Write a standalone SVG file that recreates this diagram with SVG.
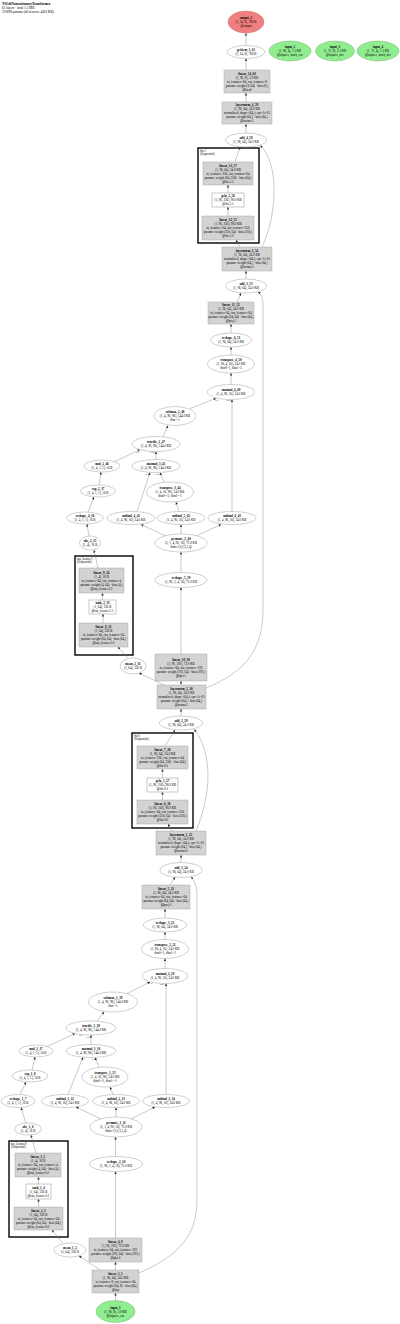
<svg xmlns="http://www.w3.org/2000/svg" width="400" height="1324" viewBox="0 0 400 1324">
<style>
text{font-family:"Liberation Serif",serif;font-size:3.2px;fill:#000;text-anchor:middle}
.b{font-weight:bold}
.h{text-anchor:start;font-size:3.4px}
.cl{text-anchor:start;font-size:3px}
.el{font-size:2.4px;fill:#333}
.e{fill:#fff;stroke:#888;stroke-width:0.4}
.r{fill:#d3d3d3;stroke:#999;stroke-width:0.4}
.w{fill:#fff;stroke:#777;stroke-width:0.4}
.in{fill:#90ee90;stroke:#6a6;stroke-width:0.4}
.out{fill:#f08080;stroke:#b66;stroke-width:0.4}
.c{fill:#fff;stroke:#000;stroke-width:1.4}
#edges path{fill:none;stroke:#777;stroke-width:0.4;marker-end:url(#a)}
</style>
<defs>
<marker id="a" viewBox="0 0 10 10" refX="10" refY="5" markerWidth="2.6" markerHeight="2.6" markerUnits="userSpaceOnUse" orient="auto"><path d="M0,0L10,5L0,10z" fill="#333"/></marker>
</defs>
<rect width="400" height="1324" fill="#fff"/>
<g id="header">
<text class="h b" x="2" y="4.5">TSLibNonstationaryTransformer</text>
<text class="h" x="2" y="8.5">61 layers · total 1.5 MB</text>
<text class="h" x="2" y="12.5">310096 params (all tensors: 4263 KB)</text>
</g>
<g id="clusters">
<g id="ffn.1"><rect class="c" x="198" y="148" width="61" height="95"/><text class="cl" x="200" y="151.5">ffn.1</text><text class="cl" x="200" y="155.3">(Sequential)</text></g>
<g id="tau_learner.1"><rect class="c" x="75" y="556" width="58" height="99"/><text class="cl" x="77" y="559.5">tau_learner.1</text><text class="cl" x="77" y="563.3">(Sequential)</text></g>
<g id="ffn.0"><rect class="c" x="132" y="733" width="61" height="95"/><text class="cl" x="134" y="736.5">ffn.0</text><text class="cl" x="134" y="740.3">(Sequential)</text></g>
<g id="tau_learner.0"><rect class="c" x="9" y="1141" width="59" height="96"/><text class="cl" x="11" y="1144.5">tau_learner.0</text><text class="cl" x="11" y="1148.3">(Sequential)</text></g>
</g>
<g id="edges">
<path d="M115.5,1300.5L115.5,1293"/>
<path d="M115.5,1270L115.5,1262"/>
<path d="M100,1270L79,1256"/>
<path d="M139,1273C180,1255 197,1235 197,1200L197,895C197,886 194,880 191,877"/>
<path d="M63,1243.5L52,1230"/>
<path d="M38.5,1207L38.5,1199"/>
<path d="M38.5,1184L38.5,1177"/>
<path d="M36,1153L31,1135"/>
<path d="M26,1123L21,1107.5"/>
<path d="M20,1094.5L26,1082"/>
<path d="M32,1070L35,1057"/>
<path d="M46,1047L75,1033.5"/>
<path d="M115.5,1238L115.5,1171.5"/>
<path d="M115.5,1156.5L115.5,1137"/>
<path d="M101,1119L76,1107"/>
<path d="M116,1117L116,1107.5"/>
<path d="M131,1119L155,1107"/>
<path d="M68,1094.5L83,1057.3"/>
<path d="M113,1094.5L110,1087"/>
<path d="M99,1067L95,1057.5"/>
<path d="M91,1044.5L91,1035"/>
<path d="M97,1021L104,1011.8"/>
<path d="M127,993.5L150,982"/>
<path d="M166,1094.5L166,983.5"/>
<path d="M165,968.5L165,958.5"/>
<path d="M165,939.5L165,932"/>
<path d="M165,918L165,909"/>
<path d="M170,885L175,877"/>
<path d="M181,862.5L181,855"/>
<path d="M172,831L168,824"/>
<path d="M196,831C204,812 208,792 208,776C208,754 201,737 194,729.5"/>
<path d="M162.5,800L162.5,792"/>
<path d="M162.5,778L162.5,769"/>
<path d="M165,746L175,730"/>
<path d="M181,716L181,709"/>
<path d="M181,685L181,681"/>
<path d="M164,685L139,673"/>
<path d="M206,688C245,672 263,650 263,610L263,305C263,298 261,294 258,292"/>
<path d="M181,654L181,587.5"/>
<path d="M181,572.5L181,552"/>
<path d="M166,536L141,524.5"/>
<path d="M181,534L181,524.5"/>
<path d="M196,536L221,524.5"/>
<path d="M128,658.5L118,647"/>
<path d="M103,623L103,614"/>
<path d="M102.5,600L102.5,593"/>
<path d="M98,568L94,550"/>
<path d="M89,536L87,524"/>
<path d="M88,512L94,497"/>
<path d="M99,485L101,472"/>
<path d="M114,462L140,449.5"/>
<path d="M137,511.5L150,472.5"/>
<path d="M179,511.5L176,502"/>
<path d="M164,482L160,472.5"/>
<path d="M156,459.5L156,451.5"/>
<path d="M163,437L168,425.5"/>
<path d="M190,408.5L216,398.5"/>
<path d="M232,511.5L232,399.5"/>
<path d="M231,384.5L231,373"/>
<path d="M231,355L231,347"/>
<path d="M231,333L231,324"/>
<path d="M237,302L241,293"/>
<path d="M246,279L246,271"/>
<path d="M240,247L236,240"/>
<path d="M262,247C270,230 274,210 274,190C274,168 268,152 260,145.5"/>
<path d="M228,216L228,207"/>
<path d="M228,193L228,185"/>
<path d="M235,162L240,147"/>
<path d="M246,133L246,124"/>
<path d="M246,102L246,93"/>
<path d="M246,70L246,58.5"/>
<path d="M246,45.5L246,33"/>
</g>
<g id="edge-labels">
<text class="el" x="81" y="1036">self</text><text class="el" x="89" y="1038">other</text>
<text class="el" x="83" y="1059.5">self</text><text class="el" x="94" y="1059.5">other</text>
<text class="el" x="151" y="984">self</text><text class="el" x="162" y="984.5">other</text>
<text class="el" x="138" y="452.5">self</text><text class="el" x="153" y="453">other</text>
<text class="el" x="147" y="474.5">self</text><text class="el" x="158" y="474.5">other</text>
<text class="el" x="217" y="400.5">self</text><text class="el" x="229" y="401">other</text>
</g>
<g id="output_1"><ellipse class="out" cx="246" cy="22" rx="18" ry="11"/><text><tspan class="b" x="246" y="19.1">output_1</tspan><tspan x="246" y="23.1">(1, 24, 8), 768 B</tspan><tspan x="246" y="27.1">@output</tspan></text></g>
<g id="getitem_1_61"><ellipse class="e" cx="246" cy="52" rx="19" ry="6.5"/><text><tspan class="b" x="246" y="51">getitem_1_61</tspan><tspan x="246" y="55">(1, 24, 8), 768 B</tspan></text></g>
<g id="input_2"><ellipse class="in" cx="290" cy="51" rx="21" ry="10"/><text><tspan class="b" x="290" y="48.1">input_2</tspan><tspan x="290" y="52.1">(1, 96, 4), 1.5 KB</tspan><tspan x="290" y="56.1">@input.x_mark_enc</tspan></text></g>
<g id="input_3"><ellipse class="in" cx="335" cy="51" rx="19.5" ry="10"/><text><tspan class="b" x="335" y="48.1">input_3</tspan><tspan x="335" y="52.1">(1, 72, 8), 2.2 KB</tspan><tspan x="335" y="56.1">@input.x_dec</tspan></text></g>
<g id="input_4"><ellipse class="in" cx="378" cy="51" rx="21" ry="10"/><text><tspan class="b" x="378" y="48.1">input_4</tspan><tspan x="378" y="52.1">(1, 72, 4), 1.1 KB</tspan><tspan x="378" y="56.1">@input.x_mark_dec</tspan></text></g>
<g id="linear_14_60"><rect class="r" x="224" y="70" width="46" height="23"/><text><tspan class="b" x="247" y="74.6">linear_14_60</tspan><tspan x="247" y="78.6">(1, 96, 8), 3.0 KB</tspan><tspan x="247" y="82.6">in_features=64, out_features=8</tspan><tspan x="247" y="86.6">params: weight (8, 64) · bias (8,)</tspan><tspan x="247" y="90.6">@head</tspan></text></g>
<g id="layernorm_4_59"><rect class="r" x="222" y="102" width="50" height="22"/><text><tspan class="b" x="247" y="106.1">layernorm_4_59</tspan><tspan x="247" y="110.1">(1, 96, 64), 24.0 KB</tspan><tspan x="247" y="114.1">normalized_shape=(64,); eps=1e-05</tspan><tspan x="247" y="118.1">params: weight (64,) · bias (64,)</tspan><tspan x="247" y="122.1">@norms.3</tspan></text></g>
<g id="add_4_58"><ellipse class="e" cx="246" cy="140" rx="20.5" ry="7"/><text><tspan class="b" x="246" y="139.1">add_4_58</tspan><tspan x="246" y="143.1">(1, 96, 64), 24.0 KB</tspan></text></g>
<g id="linear_13_57"><rect class="r" x="203" y="162" width="50" height="23"/><text><tspan class="b" x="228" y="166.6">linear_13_57</tspan><tspan x="228" y="170.6">(1, 96, 64), 24.0 KB</tspan><tspan x="228" y="174.6">in_features=256, out_features=64</tspan><tspan x="228" y="178.6">params: weight (64, 256) · bias (64,)</tspan><tspan x="228" y="182.6">@ffn.1.2</tspan></text></g>
<g id="gelu_2_56"><rect class="w" x="212" y="193" width="32" height="14"/><text><tspan class="b" x="228" y="197.1">gelu_2_56</tspan><tspan x="228" y="201.1">(1, 96, 256), 96.0 KB</tspan><tspan x="228" y="205.1">@ffn.1.1</tspan></text></g>
<g id="linear_12_55"><rect class="r" x="202" y="216" width="52" height="24"/><text><tspan class="b" x="228" y="221.1">linear_12_55</tspan><tspan x="228" y="225.1">(1, 96, 256), 96.0 KB</tspan><tspan x="228" y="229.1">in_features=64, out_features=256</tspan><tspan x="228" y="233.1">params: weight (256, 64) · bias (256,)</tspan><tspan x="228" y="237.1">@ffn.1.0</tspan></text></g>
<g id="layernorm_3_54"><rect class="r" x="222" y="247" width="50" height="24"/><text><tspan class="b" x="247" y="252.1">layernorm_3_54</tspan><tspan x="247" y="256.1">(1, 96, 64), 24.0 KB</tspan><tspan x="247" y="260.1">normalized_shape=(64,); eps=1e-05</tspan><tspan x="247" y="264.1">params: weight (64,) · bias (64,)</tspan><tspan x="247" y="268.1">@norms.2</tspan></text></g>
<g id="add_3_53"><ellipse class="e" cx="246" cy="286" rx="20.5" ry="7"/><text><tspan class="b" x="246" y="285.1">add_3_53</tspan><tspan x="246" y="289.1">(1, 96, 64), 24.0 KB</tspan></text></g>
<g id="linear_11_52"><rect class="r" x="208" y="302" width="46" height="22"/><text><tspan class="b" x="231" y="306.1">linear_11_52</tspan><tspan x="231" y="310.1">(1, 96, 64), 24.0 KB</tspan><tspan x="231" y="314.1">in_features=64, out_features=64</tspan><tspan x="231" y="318.1">params: weight (64, 64) · bias (64,)</tspan><tspan x="231" y="322.1">@proj.1</tspan></text></g>
<g id="reshape_6_51"><ellipse class="e" cx="231" cy="340" rx="20.5" ry="7"/><text><tspan class="b" x="231" y="339.1">reshape_6_51</tspan><tspan x="231" y="343.1">(1, 96, 64), 24.0 KB</tspan></text></g>
<g id="transpose_4_50"><ellipse class="e" cx="231" cy="364" rx="23.5" ry="9"/><text><tspan class="b" x="231" y="361.1">transpose_4_50</tspan><tspan x="231" y="365.1">(1, 96, 4, 16), 24.0 KB</tspan><tspan x="231" y="369.1">dim0=1, dim1=2</tspan></text></g>
<g id="matmul_4_49"><ellipse class="e" cx="231" cy="392" rx="23.5" ry="7.5"/><text><tspan class="b" x="231" y="391.1">matmul_4_49</tspan><tspan x="231" y="395.1">(1, 4, 96, 16), 24.0 KB</tspan></text></g>
<g id="softmax_2_48"><ellipse class="e" cx="175" cy="416" rx="21" ry="9.5"/><text><tspan class="b" x="175" y="413.1">softmax_2_48</tspan><tspan x="175" y="417.1">(1, 4, 96, 96), 144.0 KB</tspan><tspan x="175" y="421.1">dim=-1</tspan></text></g>
<g id="truediv_2_47"><ellipse class="e" cx="156" cy="444" rx="24" ry="7.5"/><text><tspan class="b" x="156" y="443.1">truediv_2_47</tspan><tspan x="156" y="447.1">(1, 4, 96, 96), 144.0 KB</tspan></text></g>
<g id="mul_2_46"><ellipse class="e" cx="102" cy="466" rx="18" ry="6"/><text><tspan class="b" x="102" y="465.1">mul_2_46</tspan><tspan x="102" y="469.1">(1, 4, 1, 1), 16 B</tspan></text></g>
<g id="matmul_3_45"><ellipse class="e" cx="156" cy="466" rx="24" ry="6.5"/><text><tspan class="b" x="156" y="465.1">matmul_3_45</tspan><tspan x="156" y="469.1">(1, 4, 96, 96), 144.0 KB</tspan></text></g>
<g id="transpose_3_44"><ellipse class="e" cx="170" cy="492" rx="23.5" ry="10"/><text><tspan class="b" x="170" y="489.1">transpose_3_44</tspan><tspan x="170" y="493.1">(1, 4, 16, 96), 24.0 KB</tspan><tspan x="170" y="497.1">dim0=-2, dim1=-1</tspan></text></g>
<g id="exp_2_37"><ellipse class="e" cx="98" cy="491" rx="17.5" ry="6"/><text><tspan class="b" x="98" y="490.1">exp_2_37</tspan><tspan x="98" y="494.1">(1, 4, 1, 1), 16 B</tspan></text></g>
<g id="reshape_4_36"><ellipse class="e" cx="85" cy="518" rx="18.5" ry="6"/><text><tspan class="b" x="85" y="517.1">reshape_4_36</tspan><tspan x="85" y="521.1">(1, 4, 1, 1), 16 B</tspan></text></g>
<g id="unbind_4_41"><ellipse class="e" cx="131" cy="518" rx="24" ry="6.5"/><text><tspan class="b" x="131" y="517.1">unbind_4_41</tspan><tspan x="131" y="521.1">(1, 4, 96, 16), 24.0 KB</tspan></text></g>
<g id="unbind_5_42"><ellipse class="e" cx="181" cy="518" rx="24" ry="6.5"/><text><tspan class="b" x="181" y="517.1">unbind_5_42</tspan><tspan x="181" y="521.1">(1, 4, 96, 16), 24.0 KB</tspan></text></g>
<g id="unbind_6_43"><ellipse class="e" cx="232" cy="518" rx="24" ry="6.5"/><text><tspan class="b" x="232" y="517.1">unbind_6_43</tspan><tspan x="232" y="521.1">(1, 4, 96, 16), 24.0 KB</tspan></text></g>
<g id="abs_2_35"><ellipse class="e" cx="90" cy="543" rx="10.5" ry="7"/><text><tspan class="b" x="90" y="542.1">abs_2_35</tspan><tspan x="90" y="546.1">(1, 4), 16 B</tspan></text></g>
<g id="permute_2_40"><ellipse class="e" cx="181" cy="543" rx="26" ry="9"/><text><tspan class="b" x="181" y="540.1">permute_2_40</tspan><tspan x="181" y="544.1">(3, 1, 4, 96, 16), 72.0 KB</tspan><tspan x="181" y="548.1">dims=(2,0,3,1,4)</tspan></text></g>
<g id="linear_9_34"><rect class="r" x="79" y="568" width="45" height="25"/><text><tspan class="b" x="101.5" y="573.6">linear_9_34</tspan><tspan x="101.5" y="577.6">(1, 4), 16 B</tspan><tspan x="101.5" y="581.6">in_features=64, out_features=4</tspan><tspan x="101.5" y="585.6">params: weight (4, 64) · bias (4,)</tspan><tspan x="101.5" y="589.6">@tau_learner.1.2</tspan></text></g>
<g id="tanh_2_33"><rect class="w" x="89" y="600" width="27" height="14"/><text><tspan class="b" x="102.5" y="604.1">tanh_2_33</tspan><tspan x="102.5" y="608.1">(1, 64), 256 B</tspan><tspan x="102.5" y="612.1">@tau_learner.1.1</tspan></text></g>
<g id="linear_8_32"><rect class="r" x="79" y="623" width="49" height="24"/><text><tspan class="b" x="103.5" y="628.1">linear_8_32</tspan><tspan x="103.5" y="632.1">(1, 64), 256 B</tspan><tspan x="103.5" y="636.1">in_features=64, out_features=64</tspan><tspan x="103.5" y="640.1">params: weight (64, 64) · bias (64,)</tspan><tspan x="103.5" y="644.1">@tau_learner.1.0</tspan></text></g>
<g id="reshape_5_39"><ellipse class="e" cx="181" cy="580" rx="26" ry="7.5"/><text><tspan class="b" x="181" y="579.1">reshape_5_39</tspan><tspan x="181" y="583.1">(1, 96, 3, 4, 16), 72.0 KB</tspan></text></g>
<g id="mean_2_31"><ellipse class="e" cx="133" cy="666" rx="13" ry="8"/><text><tspan class="b" x="133" y="665.1">mean_2_31</tspan><tspan x="133" y="669.1">(1, 64), 256 B</tspan></text></g>
<g id="linear_10_38"><rect class="r" x="155" y="654" width="52" height="27"/><text><tspan class="b" x="181" y="660.6">linear_10_38</tspan><tspan x="181" y="664.6">(1, 96, 192), 72.0 KB</tspan><tspan x="181" y="668.6">in_features=64, out_features=192</tspan><tspan x="181" y="672.6">params: weight (192, 64) · bias (192,)</tspan><tspan x="181" y="676.6">@qkv.1</tspan></text></g>
<g id="layernorm_2_30"><rect class="r" x="157" y="685" width="49" height="24"/><text><tspan class="b" x="181.5" y="690.1">layernorm_2_30</tspan><tspan x="181.5" y="694.1">(1, 96, 64), 24.0 KB</tspan><tspan x="181.5" y="698.1">normalized_shape=(64,); eps=1e-05</tspan><tspan x="181.5" y="702.1">params: weight (64,) · bias (64,)</tspan><tspan x="181.5" y="706.1">@norms.1</tspan></text></g>
<g id="add_2_29"><ellipse class="e" cx="181" cy="723" rx="21.5" ry="7"/><text><tspan class="b" x="181" y="722.1">add_2_29</tspan><tspan x="181" y="726.1">(1, 96, 64), 24.0 KB</tspan></text></g>
<g id="linear_7_28"><rect class="r" x="137" y="746" width="51" height="23"/><text><tspan class="b" x="162.5" y="750.6">linear_7_28</tspan><tspan x="162.5" y="754.6">(1, 96, 64), 24.0 KB</tspan><tspan x="162.5" y="758.6">in_features=256, out_features=64</tspan><tspan x="162.5" y="762.6">params: weight (64, 256) · bias (64,)</tspan><tspan x="162.5" y="766.6">@ffn.0.2</tspan></text></g>
<g id="gelu_1_27"><rect class="w" x="147" y="778" width="31" height="14"/><text><tspan class="b" x="162.5" y="782.1">gelu_1_27</tspan><tspan x="162.5" y="786.1">(1, 96, 256), 96.0 KB</tspan><tspan x="162.5" y="790.1">@ffn.0.1</tspan></text></g>
<g id="linear_6_26"><rect class="r" x="137" y="800" width="51" height="24"/><text><tspan class="b" x="162.5" y="805.1">linear_6_26</tspan><tspan x="162.5" y="809.1">(1, 96, 256), 96.0 KB</tspan><tspan x="162.5" y="813.1">in_features=64, out_features=256</tspan><tspan x="162.5" y="817.1">params: weight (256, 64) · bias (256,)</tspan><tspan x="162.5" y="821.1">@ffn.0.0</tspan></text></g>
<g id="layernorm_1_25"><rect class="r" x="156" y="831" width="50" height="24"/><text><tspan class="b" x="181" y="836.1">layernorm_1_25</tspan><tspan x="181" y="840.1">(1, 96, 64), 24.0 KB</tspan><tspan x="181" y="844.1">normalized_shape=(64,); eps=1e-05</tspan><tspan x="181" y="848.1">params: weight (64,) · bias (64,)</tspan><tspan x="181" y="852.1">@norms.0</tspan></text></g>
<g id="add_1_24"><ellipse class="e" cx="181" cy="870" rx="21" ry="7.5"/><text><tspan class="b" x="181" y="869.1">add_1_24</tspan><tspan x="181" y="873.1">(1, 96, 64), 24.0 KB</tspan></text></g>
<g id="linear_5_23"><rect class="r" x="142" y="885" width="48" height="24"/><text><tspan class="b" x="166" y="890.1">linear_5_23</tspan><tspan x="166" y="894.1">(1, 96, 64), 24.0 KB</tspan><tspan x="166" y="898.1">in_features=64, out_features=64</tspan><tspan x="166" y="902.1">params: weight (64, 64) · bias (64,)</tspan><tspan x="166" y="906.1">@proj.0</tspan></text></g>
<g id="reshape_3_22"><ellipse class="e" cx="165" cy="925" rx="21.5" ry="7"/><text><tspan class="b" x="165" y="924.1">reshape_3_22</tspan><tspan x="165" y="928.1">(1, 96, 64), 24.0 KB</tspan></text></g>
<g id="transpose_2_21"><ellipse class="e" cx="165" cy="949" rx="23.5" ry="9.5"/><text><tspan class="b" x="165" y="946.1">transpose_2_21</tspan><tspan x="165" y="950.1">(1, 96, 4, 16), 24.0 KB</tspan><tspan x="165" y="954.1">dim0=1, dim1=2</tspan></text></g>
<g id="matmul_2_20"><ellipse class="e" cx="165" cy="976" rx="23" ry="7.5"/><text><tspan class="b" x="165" y="975.1">matmul_2_20</tspan><tspan x="165" y="979.1">(1, 4, 96, 16), 24.0 KB</tspan></text></g>
<g id="softmax_1_19"><ellipse class="e" cx="113" cy="1002" rx="24.5" ry="10"/><text><tspan class="b" x="113" y="999.1">softmax_1_19</tspan><tspan x="113" y="1003.1">(1, 4, 96, 96), 144.0 KB</tspan><tspan x="113" y="1007.1">dim=-1</tspan></text></g>
<g id="truediv_1_18"><ellipse class="e" cx="91" cy="1028" rx="25" ry="7"/><text><tspan class="b" x="91" y="1027.1">truediv_1_18</tspan><tspan x="91" y="1031.1">(1, 4, 96, 96), 144.0 KB</tspan></text></g>
<g id="mul_1_17"><ellipse class="e" cx="36" cy="1051" rx="17" ry="6"/><text><tspan class="b" x="36" y="1050.1">mul_1_17</tspan><tspan x="36" y="1054.1">(1, 4, 1, 1), 16 B</tspan></text></g>
<g id="matmul_1_16"><ellipse class="e" cx="91" cy="1051" rx="25" ry="6.5"/><text><tspan class="b" x="91" y="1050.1">matmul_1_16</tspan><tspan x="91" y="1054.1">(1, 4, 96, 96), 144.0 KB</tspan></text></g>
<g id="transpose_1_15"><ellipse class="e" cx="105" cy="1077" rx="23" ry="10"/><text><tspan class="b" x="105" y="1074.1">transpose_1_15</tspan><tspan x="105" y="1078.1">(1, 4, 16, 96), 24.0 KB</tspan><tspan x="105" y="1082.1">dim0=-2, dim1=-1</tspan></text></g>
<g id="exp_1_8"><ellipse class="e" cx="30" cy="1076" rx="18" ry="6"/><text><tspan class="b" x="30" y="1075.1">exp_1_8</tspan><tspan x="30" y="1079.1">(1, 4, 1, 1), 16 B</tspan></text></g>
<g id="reshape_1_7"><ellipse class="e" cx="18" cy="1101" rx="17" ry="6.5"/><text><tspan class="b" x="18" y="1100.1">reshape_1_7</tspan><tspan x="18" y="1104.1">(1, 4, 1, 1), 16 B</tspan></text></g>
<g id="unbind_1_12"><ellipse class="e" cx="65" cy="1101" rx="23.5" ry="6.5"/><text><tspan class="b" x="65" y="1100.1">unbind_1_12</tspan><tspan x="65" y="1104.1">(1, 4, 96, 16), 24.0 KB</tspan></text></g>
<g id="unbind_2_13"><ellipse class="e" cx="116" cy="1101" rx="23.5" ry="6.5"/><text><tspan class="b" x="116" y="1100.1">unbind_2_13</tspan><tspan x="116" y="1104.1">(1, 4, 96, 16), 24.0 KB</tspan></text></g>
<g id="unbind_3_14"><ellipse class="e" cx="166" cy="1101" rx="23.5" ry="6.5"/><text><tspan class="b" x="166" y="1100.1">unbind_3_14</tspan><tspan x="166" y="1104.1">(1, 4, 96, 16), 24.0 KB</tspan></text></g>
<g id="abs_1_6"><ellipse class="e" cx="28" cy="1129" rx="13.5" ry="6"/><text><tspan class="b" x="28" y="1128.1">abs_1_6</tspan><tspan x="28" y="1132.1">(1, 4), 16 B</tspan></text></g>
<g id="permute_1_11"><ellipse class="e" cx="116" cy="1127" rx="26" ry="10"/><text><tspan class="b" x="116" y="1124.1">permute_1_11</tspan><tspan x="116" y="1128.1">(3, 1, 4, 96, 16), 72.0 KB</tspan><tspan x="116" y="1132.1">dims=(2,0,3,1,4)</tspan></text></g>
<g id="reshape_2_10"><ellipse class="e" cx="116" cy="1164" rx="26.5" ry="7.5"/><text><tspan class="b" x="116" y="1163.1">reshape_2_10</tspan><tspan x="116" y="1167.1">(1, 96, 3, 4, 16), 72.0 KB</tspan></text></g>
<g id="linear_3_5"><rect class="r" x="15" y="1153" width="46" height="24"/><text><tspan class="b" x="38" y="1158.1">linear_3_5</tspan><tspan x="38" y="1162.1">(1, 4), 16 B</tspan><tspan x="38" y="1166.1">in_features=64, out_features=4</tspan><tspan x="38" y="1170.1">params: weight (4, 64) · bias (4,)</tspan><tspan x="38" y="1174.1">@tau_learner.0.2</tspan></text></g>
<g id="tanh_1_4"><rect class="w" x="26" y="1184" width="25" height="15"/><text><tspan class="b" x="38.5" y="1188.6">tanh_1_4</tspan><tspan x="38.5" y="1192.6">(1, 64), 256 B</tspan><tspan x="38.5" y="1196.6">@tau_learner.0.1</tspan></text></g>
<g id="linear_2_3"><rect class="r" x="14" y="1207" width="49" height="23"/><text><tspan class="b" x="38.5" y="1211.6">linear_2_3</tspan><tspan x="38.5" y="1215.6">(1, 64), 256 B</tspan><tspan x="38.5" y="1219.6">in_features=64, out_features=64</tspan><tspan x="38.5" y="1223.6">params: weight (64, 64) · bias (64,)</tspan><tspan x="38.5" y="1227.6">@tau_learner.0.0</tspan></text></g>
<g id="mean_1_2"><ellipse class="e" cx="70" cy="1250" rx="16" ry="7"/><text><tspan class="b" x="70" y="1249.1">mean_1_2</tspan><tspan x="70" y="1253.1">(1, 64), 256 B</tspan></text></g>
<g id="linear_4_9"><rect class="r" x="89" y="1238" width="53" height="24"/><text><tspan class="b" x="115.5" y="1243.1">linear_4_9</tspan><tspan x="115.5" y="1247.1">(1, 96, 192), 72.0 KB</tspan><tspan x="115.5" y="1251.1">in_features=64, out_features=192</tspan><tspan x="115.5" y="1255.1">params: weight (192, 64) · bias (192,)</tspan><tspan x="115.5" y="1259.1">@qkv.0</tspan></text></g>
<g id="linear_1_1"><rect class="r" x="92" y="1270" width="47" height="23"/><text><tspan class="b" x="115.5" y="1274.6">linear_1_1</tspan><tspan x="115.5" y="1278.6">(1, 96, 64), 24.0 KB</tspan><tspan x="115.5" y="1282.6">in_features=8, out_features=64</tspan><tspan x="115.5" y="1286.6">params: weight (64, 8) · bias (64,)</tspan><tspan x="115.5" y="1290.6">@inp</tspan></text></g>
<g id="input_1"><ellipse class="in" cx="115.5" cy="1311.5" rx="19.5" ry="11"/><text><tspan class="b" x="115.5" y="1308.6">input_1</tspan><tspan x="115.5" y="1312.6">(1, 96, 8), 3.0 KB</tspan><tspan x="115.5" y="1316.6">@input.x_enc</tspan></text></g>
</svg>
